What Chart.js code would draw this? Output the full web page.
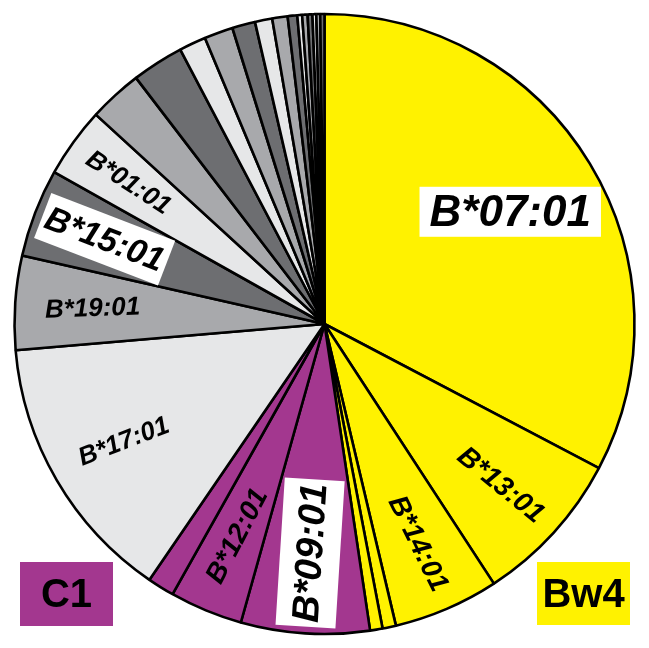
<!DOCTYPE html>
<html>
<head>
<meta charset="utf-8">
<script src="https://cdn.jsdelivr.net/npm/chart.js@4/dist/chart.umd.min.js"></script>
<style>
  html, body { margin: 0; padding: 0; background: #fff; }
  canvas { display: block; }
</style>
</head>
<body>
<canvas id="pie" width="649" height="648"></canvas>
<script>
// Alelos HLA-B, en el orden del gráfico (sentido horario desde arriba).
const ALLELES = [
  "B*07:01", "B*13:01", "B*14:01", "", "",
  "B*09:01", "B*12:01", "",
  "B*17:01", "B*19:01", "B*15:01", "B*01:01",
  "", "", "", "", "", "", "", "", "", "", "", "", "", ""
];
// Frecuencia (%)
const FREQ = [
  32.7, 8.1, 5.5, 0.7, 0.65,
  6.7, 3.8, 1.4,
  14.1, 4.9, 4.6, 3.65,
  2.8, 2.7, 1.4, 1.5, 1.2, 0.9, 0.8, 0.5, 0.25, 0.28, 0.25, 0.2, 0.2, 0.22
];
// Grupo de ligando KIR de cada alelo
const GROUPS = [
  "Bw4", "Bw4", "Bw4", "Bw4", "Bw4",
  "C1", "C1", "C1",
  "other", "other", "other", "other",
  "other", "other", "other", "other", "other", "other", "other", "other", "other", "other", "other", "other", "other", "other"
];

const YELLOW = "#fff200";
const PURPLE = "#a3378f";
const GRAYS = ["#e6e7e8", "#a8a9ac", "#6d6e71"]; // claro, medio, oscuro (se repiten)

function sliceColors() {
  let k = 0;
  return GROUPS.map((g) => {
    if (g === "Bw4") return YELLOW;
    if (g === "C1") return PURPLE;
    return GRAYS[k++ % 3];
  });
}

// Estilo de cada etiqueta: dir = "flat" | "out" (lee hacia afuera) | "in" (lee hacia el centro)
// adj = corrección de giro en grados
const LABEL_STYLE = {
  0: { size: 44, frac: 0.70, dir: "flat", box: true, padX: 10, padY: 3 },
  1: { size: 28, frac: 0.77, dir: "out", adj: -3 },
  2: { size: 28, frac: 0.77, dir: "out", adj: -3 },
  5: { size: 38, frac: 0.74, dir: "in", box: true, padX: 4, padY: 11 },
  6: { size: 28, frac: 0.74, dir: "in", adj: 5 },
  8: { size: 26, frac: 0.75, dir: "in", adj: 9 },
  9: { size: 26, frac: 0.75, dir: "in", adj: -6 },
  10: { size: 34, frac: 0.76, dir: "in", box: true, padX: 4, padY: 7 },
  11: { size: 26, frac: 0.78, dir: "in", adj: -3 },
};

const FONT = '"Liberation Sans", Arial, sans-serif';

const sliceLabels = {
  id: "sliceLabels",
  afterDatasetsDraw(chart) {
    const ctx = chart.ctx;
    const meta = chart.getDatasetMeta(0);
    for (const [i, st] of Object.entries(LABEL_STYLE)) {
      const arc = meta.data[i];
      const text = ALLELES[i];
      const mid = (arc.startAngle + arc.endAngle) / 2;
      const r = arc.outerRadius * st.frac;
      const x = arc.x + Math.cos(mid) * r;
      const y = arc.y + Math.sin(mid) * r;
      let rot = 0;
      if (st.dir === "out") rot = mid;
      if (st.dir === "in") rot = mid + Math.PI;
      rot += ((st.adj || 0) * Math.PI) / 180;

      ctx.save();
      ctx.translate(x, y);
      ctx.rotate(rot);
      ctx.font = `italic bold ${st.size}px ${FONT}`;
      ctx.textAlign = "center";
      ctx.textBaseline = "middle";
      if (st.box) {
        const w = ctx.measureText(text).width + st.padX * 2;
        const h = st.size + st.padY * 2;
        ctx.fillStyle = "#fff";
        ctx.fillRect(-w / 2, -h / 2, w, h);
      }
      ctx.fillStyle = "#000";
      ctx.fillText(text, 0, st.size * 0.04);
      ctx.restore();
    }
  },
};

// Cajas de leyenda C1 / Bw4 en las esquinas inferiores
const groupKey = {
  id: "groupKey",
  afterDraw(chart) {
    const ctx = chart.ctx;
    const keys = [
      { text: "C1", color: PURPLE, x: 20, y: 562, w: 93, h: 64 },
      { text: "Bw4", color: YELLOW, x: 537, y: 562, w: 93, h: 63 },
    ];
    ctx.save();
    for (const k of keys) {
      ctx.fillStyle = k.color;
      ctx.fillRect(k.x, k.y, k.w, k.h);
      ctx.fillStyle = "#000";
      ctx.font = `bold 40px ${FONT}`;
      ctx.textAlign = "center";
      ctx.textBaseline = "middle";
      ctx.fillText(k.text, k.x + k.w / 2, k.y + k.h / 2 + 2);
    }
    ctx.restore();
  },
};

new Chart(document.getElementById("pie"), {
  type: "pie",
  data: {
    labels: ALLELES,
    datasets: [
      {
        data: FREQ,
        backgroundColor: sliceColors(),
        borderColor: "#000",
        borderWidth: 2.6,
        hoverOffset: 0,
      },
    ],
  },
  options: {
    responsive: false,
    animation: false,
    events: [],
    radius: 310,
    layout: { padding: 0 },
    plugins: { legend: { display: false }, tooltip: { enabled: false } },
  },
  plugins: [sliceLabels, groupKey],
});
</script>
</body>
</html>
